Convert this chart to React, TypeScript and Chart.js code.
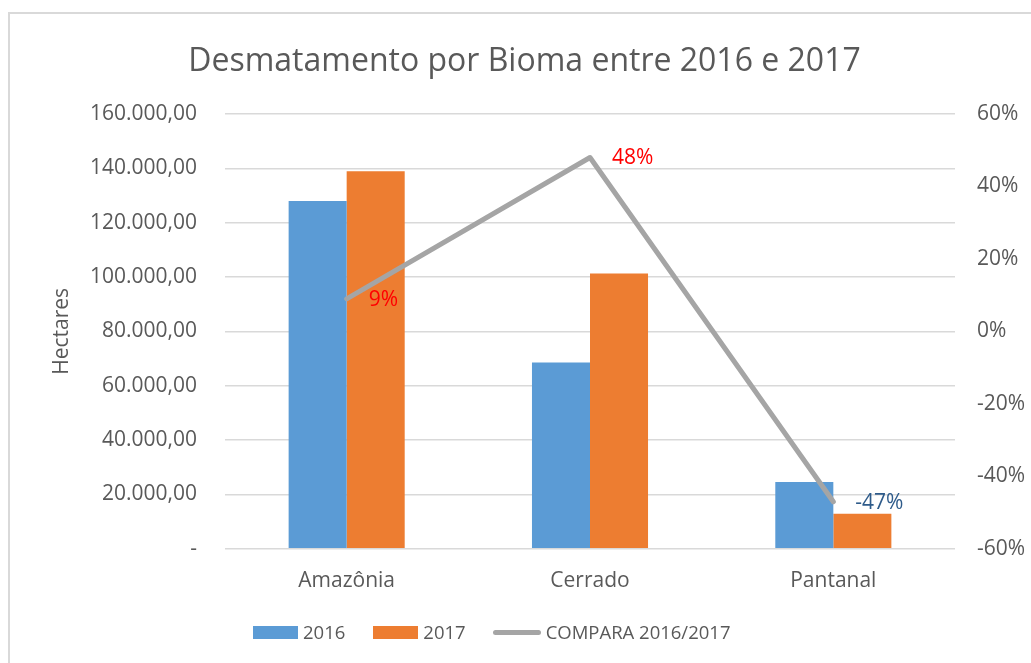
import React, { useEffect, useRef } from 'react';
import { Chart, registerables } from 'chart.js';

Chart.register(...registerables);

const categories = ['Amazônia', 'Cerrado', 'Pantanal'];
const series2016 = [128000, 68600, 24600];
const series2017 = [138900, 101300, 12900];
const compara = [9, 48, -47];
const seriesNames = ['2016', '2017', 'COMPARA 2016/2017'];
const chartTitle = 'Desmatamento por Bioma entre 2016 e 2017';
const leftAxisTitle = 'Hectares';
const leftTickStep = 20000;
const leftMax = 160000;
const rightMin = -60;
const rightMax = 60;
const rightTickStep = 20;

const FONT = '"Open Sans", sans-serif';
const TEXT = '#595959';
const BLUE = '#5B9BD5';
const ORANGE = '#ED7D31';
const GRAY = '#A5A5A5';
const GRID = '#D9D9D9';
const labelColors = ['#FF0000', '#FF0000', '#2E5B8A'];

function fmtBR(v: number): string {
  if (v === 0) return '-';
  const int = Math.round(v)
    .toString()
    .replace(/\B(?=(\d{3})+(?!\d))/g, '.');
  return int + ',00';
}

export default function App() {
  const ref = useRef<HTMLCanvasElement>(null);

  useEffect(() => {
    document.body.style.margin = '0';
    Chart.defaults.font.family = FONT;
    Chart.defaults.color = TEXT;

    const lineLabels = {
      id: 'lineLabels',
      afterDatasetsDraw(chart: any) {
        const meta = chart.getDatasetMeta(2);
        const ctx = chart.ctx;
        ctx.save();
        ctx.font = `21px ${FONT}`;
        ctx.textAlign = 'left';
        ctx.textBaseline = 'middle';
        meta.data.forEach((pt: any, i: number) => {
          ctx.fillStyle = labelColors[i];
          ctx.fillText(`${compara[i]}%`, pt.x + 22, pt.y + 1);
        });
        ctx.restore();
      },
    };

    const chart = new Chart(ref.current as HTMLCanvasElement, {
      type: 'bar',
      data: {
        labels: categories,
        datasets: [
          {
            type: 'bar',
            label: seriesNames[0],
            data: series2016,
            backgroundColor: BLUE,
            yAxisID: 'y',
            order: 1,
            categoryPercentage: 0.477,
            barPercentage: 1,
          },
          {
            type: 'bar',
            label: seriesNames[1],
            data: series2017,
            backgroundColor: ORANGE,
            yAxisID: 'y',
            order: 1,
            categoryPercentage: 0.477,
            barPercentage: 1,
          },
          {
            type: 'line',
            label: seriesNames[2],
            data: compara,
            borderColor: GRAY,
            backgroundColor: GRAY,
            borderWidth: 5,
            pointRadius: 0,
            borderCapStyle: 'round',
            borderJoinStyle: 'round',
            yAxisID: 'y1',
            order: 0,
          },
        ],
      } as any,
      options: {
        responsive: false,
        animation: false,
        layout: { padding: { left: 18, right: 0, top: 12, bottom: 49 } },
        plugins: {
          legend: { display: false },
          tooltip: { enabled: false },
          title: {
            display: true,
            text: chartTitle,
            color: TEXT,
            font: { size: 32, weight: 'normal', family: FONT },
            padding: { top: 31, bottom: 32.6 },
          },
        },
        scales: {
          x: {
            grid: { display: false, drawTicks: false },
            border: { display: false },
            ticks: { color: TEXT, font: { size: 21 }, padding: 20, maxRotation: 0 },
          },
          y: {
            position: 'left',
            min: 0,
            max: leftMax,
            afterFit: (s: any) => {
              s.width = 207;
            },
            grid: { color: GRID, lineWidth: 1.5, drawTicks: false },
            border: { display: false },
            ticks: {
              stepSize: leftTickStep,
              color: TEXT,
              font: { size: 21 },
              padding: 28,
              callback: (v: any) => fmtBR(Number(v)),
            },
            title: {
              display: true,
              text: leftAxisTitle,
              color: TEXT,
              font: { size: 21 },
              padding: { top: 31.4, bottom: 0 },
            },
          },
          y1: {
            position: 'right',
            min: rightMin,
            max: rightMax,
            afterFit: (s: any) => {
              s.width = 76;
            },
            grid: { display: false, drawTicks: false },
            border: { display: false },
            ticks: {
              stepSize: rightTickStep,
              color: TEXT,
              font: { size: 21 },
              padding: 22,
              callback: (v: any) => `${v}%`,
            },
          },
        },
      } as any,
      plugins: [lineLabels],
    });
    return () => chart.destroy();
  }, []);

  const legendText: React.CSSProperties = {
    fontFamily: FONT,
    fontSize: 18.5,
    color: TEXT,
    lineHeight: '22px',
    whiteSpace: 'nowrap',
  };

  return (
    <div
      style={{
        position: 'fixed',
        left: 0,
        top: 0,
        width: 1031,
        height: 663,
        overflow: 'hidden',
        background: '#fff',
      }}
    >
      <div
        style={{
          position: 'absolute',
          left: 8,
          top: 12,
          width: 1100,
          height: 800,
          border: `2px solid ${GRID}`,
          boxSizing: 'border-box',
        }}
      />
      <canvas
        ref={ref}
        width={1031}
        height={663}
        style={{ position: 'absolute', left: 0, top: 0, width: 1031, height: 663 }}
      />
      <div
        style={{
          position: 'absolute',
          left: 253,
          top: 621,
          height: 22,
          display: 'flex',
          alignItems: 'center',
        }}
      >
        <span style={{ display: 'inline-block', width: 45, height: 13, background: BLUE }} />
        <span style={{ ...legendText, marginLeft: 5 }}>{seriesNames[0]}</span>
        <span
          style={{ display: 'inline-block', width: 45, height: 13, background: ORANGE, marginLeft: 28 }}
        />
        <span style={{ ...legendText, marginLeft: 5 }}>{seriesNames[1]}</span>
        <span
          style={{
            display: 'inline-block',
            width: 48,
            height: 5,
            borderRadius: 3,
            background: GRAY,
            marginLeft: 27,
          }}
        />
        <span style={{ ...legendText, marginLeft: 5 }}>{seriesNames[2]}</span>
      </div>
    </div>
  );
}
